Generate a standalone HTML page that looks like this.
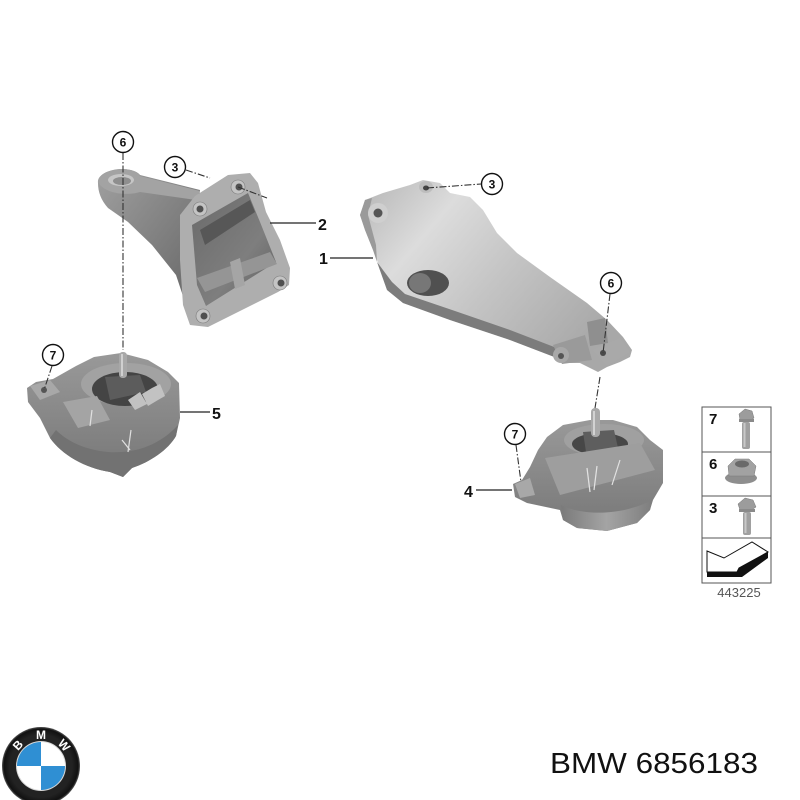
<!DOCTYPE html>
<html><head><meta charset="utf-8"><style>
html,body{margin:0;padding:0;background:#fff;}
svg{display:block;}
</style></head><body>
<svg width="800" height="800" viewBox="0 0 800 800" xmlns="http://www.w3.org/2000/svg">
<defs>
<linearGradient id="armG" x1="0" y1="0" x2="1" y2="1">
<stop offset="0" stop-color="#a0a0a0"/><stop offset="1" stop-color="#666"/></linearGradient>
<linearGradient id="plateIn" x1="0" y1="0" x2="1" y2="1">
<stop offset="0" stop-color="#6a6a6a"/><stop offset="0.6" stop-color="#7e7e7e"/><stop offset="1" stop-color="#5e5e5e"/></linearGradient>
<linearGradient id="p1G" x1="0" y1="0" x2="1" y2="0.6">
<stop offset="0" stop-color="#b4b4b4"/><stop offset="0.3" stop-color="#dcdcdc"/><stop offset="0.6" stop-color="#c4c4c4"/><stop offset="1" stop-color="#a8a8a8"/></linearGradient>
<linearGradient id="mountG" x1="0" y1="0" x2="0" y2="1">
<stop offset="0" stop-color="#999"/><stop offset="1" stop-color="#777"/></linearGradient>
<linearGradient id="baseG" x1="0" y1="0" x2="1" y2="0">
<stop offset="0" stop-color="#7a7a7a"/><stop offset="0.5" stop-color="#a4a4a4"/><stop offset="1" stop-color="#7e7e7e"/></linearGradient>
<radialGradient id="ringG" cx="0.5" cy="0.5" r="0.5">
<stop offset="0.8" stop-color="#222"/><stop offset="0.95" stop-color="#111"/><stop offset="1" stop-color="#555"/></radialGradient>
</defs>

<!-- ===== Part 2 (upper-left bracket) ===== -->
<path d="M98,183 C97,176 106,170 120,169 C130,169 137,171 140,175 L200,190 L186,305 L176,275 L152,245 L128,222 L108,208 C101,200 98,192 98,183 Z" fill="url(#armG)"/>
<path d="M98,182 C99,175 108,170 121,169 C132,169 138,172 140,176 L200,191 L196,200 L140,192 C128,196 104,194 98,182 Z" fill="#a3a3a3"/>
<ellipse cx="121" cy="180" rx="13" ry="6" fill="#c6c6c6"/>
<ellipse cx="122" cy="181" rx="9" ry="4" fill="#8e8e8e"/>
<path d="M180,215 L195,196 L228,175 L250,173 L258,183 L266,212 L280,240 L290,268 L289,285 L278,292 L208,327 L190,325 L183,305 L180,260 Z" fill="#aeaeae"/>
<path d="M192,225 L248,193 L260,222 L276,262 L206,306 L197,285 Z" fill="url(#plateIn)"/>
<path d="M197,278 L270,252 L277,264 L205,292 Z" fill="#959595"/>
<path d="M200,230 L250,200 L255,212 L205,245 Z" fill="#575757"/>
<path d="M230,262 L240,258 L245,285 L235,289 Z" fill="#a5a5a5"/>
<g fill="#c4c4c4" stroke="#7a7a7a" stroke-width="0.6">
<circle cx="200" cy="209" r="7"/><circle cx="238" cy="187" r="7"/><circle cx="280" cy="283" r="7"/><circle cx="203" cy="316" r="7"/></g>
<g fill="#505050"><circle cx="200" cy="209" r="3.5"/><circle cx="239" cy="187" r="3.5"/><circle cx="281" cy="283" r="3.5"/><circle cx="204" cy="316" r="3.5"/></g>

<!-- ===== Part 1 (right bracket) ===== -->
<path d="M360,215 L365,200 L383,193 L410,185 L423,180 L440,183 L450,193 L470,197 L483,210 L497,233 L517,253 L550,277 L587,303 L607,320 L623,337 L632,350 L630,357 L620,362 L607,367 L598,372 L590,368 L580,363 L567,363 L557,358 L510,340 L450,320 L403,303 L387,290 L377,260 L373,250 L365,230 Z" fill="url(#p1G)"/>
<path d="M377,262 L387,290 L403,303 L450,320 L510,340 L557,358 L562,350 L510,330 L455,311 L405,294 L392,282 Z" fill="#7c7c7c"/>
<path d="M360,215 L365,200 L372,198 L368,215 L376,245 L377,262 L373,250 L365,230 Z" fill="#9a9a9a"/>
<circle cx="378" cy="213" r="10" fill="#cfcfcf"/>
<circle cx="378" cy="213" r="4.5" fill="#555"/>
<ellipse cx="426" cy="187" rx="7" ry="6" fill="#bdbdbd"/>
<ellipse cx="426" cy="188" rx="3" ry="2.5" fill="#444"/>
<ellipse cx="428" cy="283" rx="21" ry="13" fill="#505050"/>
<ellipse cx="420" cy="283" rx="11" ry="10" fill="#777"/>
<path d="M553,345 L585,335 L592,360 L562,364 Z" fill="#9a9a9a"/>
<ellipse cx="561" cy="355" rx="8" ry="8" fill="#a8a8a8"/>
<circle cx="561" cy="356" r="3" fill="#555"/>
<path d="M587,322 L605,318 L608,343 L590,346 Z" fill="#8f8f8f"/>
<path d="M592,350 L620,338 L630,352 L607,366 Z" fill="#a9a9a9"/>
<circle cx="603" cy="353" r="3" fill="#4a4a4a"/>

<!-- ===== Part 5 (left mount) ===== -->
<path d="M27,388 L28,402 L40,418 L50,438 C62,455 85,468 110,472 L123,477 L132,468 C150,462 168,450 176,436 L180,418 L179,383 L168,372 L148,360 L121,353 L94,357 L76,366 L53,379 L36,382 Z" fill="url(#mountG)"/>
<path d="M56,430 C68,442 86,450 108,452 C135,454 160,445 178,425 L176,436 C168,450 150,462 132,468 L123,477 L110,472 C85,468 62,455 50,438 Z" fill="#727272"/>
<ellipse cx="126" cy="384" rx="45" ry="21" fill="#a2a2a2"/>
<ellipse cx="125" cy="389" rx="33" ry="17" fill="#444"/>
<path d="M105,377 L140,375 L146,392 L110,400 Z" fill="#5c5c5c"/>
<path d="M128,400 L140,392 L147,404 L135,410 Z M142,394 L152,388 L158,400 L148,406 Z M152,388 L160,384 L165,396 L158,400 Z" fill="#c2c2c2"/>
<path d="M63,402 L97,396 L110,420 L78,428 Z" fill="#a4a4a4"/>
<path d="M30,386 L50,380 L60,392 L40,400 Z" fill="#a8a8a8"/>
<circle cx="44" cy="390" r="3" fill="#555"/>
<g stroke="#e0e0e0" stroke-width="1.2"><line x1="92" y1="410" x2="90" y2="426"/><line x1="131" y1="430" x2="128" y2="452"/><line x1="122" y1="440" x2="130" y2="450"/></g>
<rect x="119" y="352" width="8" height="26" rx="3.5" fill="#a8a8a8"/>
<rect x="121" y="354" width="2" height="22" fill="#d0d0d0"/>

<!-- ===== Part 4 (right mount) ===== -->
<path d="M513,484 L515,497 L527,503 L560,510 L563,520 L577,528 L607,531 L637,523 L650,510 L653,500 L663,483 L663,450 L650,440 L637,427 L613,420 L590,420 L563,425 L547,437 L538,450 L530,467 L522,480 Z" fill="url(#mountG)"/>
<path d="M561,505 C580,515 620,517 652,500 L650,510 L637,523 L607,531 L577,528 L563,520 Z" fill="url(#baseG)"/>
<ellipse cx="604" cy="440" rx="40" ry="16" fill="#a0a0a0"/>
<ellipse cx="600" cy="444" rx="28" ry="11" fill="#474747"/>
<path d="M583,432 L614,430 L618,448 L586,452 Z" fill="#5e5e5e"/>
<path d="M545,458 L640,443 L655,470 L560,495 Z" fill="#9e9e9e"/>
<path d="M515,484 L530,478 L535,495 L520,498 Z" fill="#a8a8a8"/>
<g stroke="#e2e2e2" stroke-width="1.2"><line x1="587" y1="468" x2="590" y2="492"/><line x1="597" y1="466" x2="594" y2="490"/><line x1="620" y1="460" x2="612" y2="485"/></g>
<rect x="591" y="408" width="9" height="29" rx="4" fill="#a9a9a9"/>
<rect x="593" y="411" width="2" height="24" fill="#d2d2d2"/>

<!-- ===== Leader lines ===== -->
<g stroke="#222" stroke-width="1.2" fill="none">
<line x1="270" y1="223" x2="316" y2="223"/>
<line x1="330" y1="258" x2="373" y2="258"/>
<line x1="180" y1="412" x2="210" y2="412"/>
<line x1="476" y1="490" x2="512" y2="490"/>
</g>
<g stroke="#333" stroke-width="1.1" fill="none" stroke-dasharray="7,2,1.5,2">
<line x1="123" y1="153" x2="123" y2="350"/>
<line x1="186" y1="170" x2="210" y2="178"/>
<line x1="238" y1="187" x2="267" y2="198"/>
<line x1="427" y1="188" x2="481" y2="184"/>
<line x1="610" y1="294" x2="603" y2="353"/>
<line x1="600" y1="377" x2="595" y2="408"/>
<line x1="52" y1="366" x2="44" y2="390"/>
<line x1="516" y1="445" x2="521" y2="482"/>
</g>

<!-- ===== Callout circles ===== -->
<g font-family="Liberation Sans, sans-serif" font-weight="bold" font-size="12" text-anchor="middle">
<g fill="#fff" stroke="#111" stroke-width="1.4">
<circle cx="123" cy="142" r="10.5"/><circle cx="175" cy="167" r="10.5"/><circle cx="492" cy="184" r="10.5"/>
<circle cx="611" cy="283" r="10.5"/><circle cx="53" cy="355" r="10.5"/><circle cx="515" cy="434" r="10.5"/>
</g>
<g fill="#111">
<text x="123" y="146.5">6</text><text x="175" y="171.5">3</text><text x="492" y="188.5">3</text>
<text x="611" y="287.5">6</text><text x="53" y="359.5">7</text><text x="515" y="438.5">7</text>
</g>
</g>

<!-- ===== Part labels ===== -->
<g font-family="Liberation Sans, sans-serif" font-weight="bold" font-size="16" fill="#111">
<text x="318" y="230">2</text>
<text x="319" y="264">1</text>
<text x="212" y="419">5</text>
<text x="464" y="497">4</text>
</g>

<!-- ===== Legend box ===== -->
<rect x="702" y="407" width="69" height="176" fill="#fff" stroke="#555" stroke-width="1"/>
<g stroke="#555" stroke-width="1"><line x1="702" y1="452" x2="771" y2="452"/><line x1="702" y1="496" x2="771" y2="496"/><line x1="702" y1="538" x2="771" y2="538"/></g>
<g font-family="Liberation Sans, sans-serif" font-weight="bold" font-size="15" fill="#111">
<text x="709" y="424">7</text><text x="709" y="469">6</text><text x="709" y="513">3</text>
</g>
<!-- bolt 7 -->
<path d="M739,414 L745,409 L752,411 L754,418 L748,422 L740,420 Z" fill="#9c9c9c" stroke="#777" stroke-width="0.5"/>
<rect x="739" y="419" width="15" height="3" fill="#8a8a8a"/>
<rect x="742" y="422" width="8" height="27" rx="2" fill="#a0a0a0"/>
<rect x="743.5" y="423" width="2" height="24" fill="#c8c8c8"/>
<!-- nut 6 -->
<ellipse cx="741" cy="478" rx="16" ry="6" fill="#8e8e8e"/>
<path d="M728,466 L735,459 L749,459 L756,466 L754,476 L729,476 Z" fill="#a2a2a2" stroke="#7a7a7a" stroke-width="0.5"/>
<ellipse cx="742" cy="464" rx="7" ry="3.5" fill="#6a6a6a"/>
<!-- bolt 3 -->
<path d="M738,504 L745,498 L753,500 L756,507 L750,511 L740,510 Z" fill="#9c9c9c" stroke="#777" stroke-width="0.5"/>
<rect x="739" y="509" width="16" height="3" fill="#8a8a8a"/>
<rect x="743" y="512" width="8" height="23" rx="2" fill="#a0a0a0"/>
<rect x="744.5" y="513" width="2" height="20" fill="#c8c8c8"/>
<!-- arrow icon -->
<path d="M707,572 L737,572 L739,568 L768,552 L768,558 L742,577 L707,577 Z" fill="#111"/>
<path d="M707,551 L724,558 L752,542 L768,552 L739,568 L737,572 L707,572 Z" fill="#fff" stroke="#111" stroke-width="1"/>
<text x="739" y="597" font-family="Liberation Sans, sans-serif" font-size="13" fill="#555" text-anchor="middle">443225</text>

<!-- ===== BMW logo ===== -->
<circle cx="41" cy="766" r="39" fill="url(#ringG)"/>
<circle cx="41" cy="766" r="25" fill="#d8d8d8"/>
<path d="M41,766 L41,742 A24,24 0 0,0 17,766 Z" fill="#2f8fd3"/>
<path d="M41,766 L41,742 A24,24 0 0,1 65,766 Z" fill="#fff"/>
<path d="M41,766 L17,766 A24,24 0 0,0 41,790 Z" fill="#fff"/>
<path d="M41,766 L65,766 A24,24 0 0,1 41,790 Z" fill="#2f8fd3"/>
<g font-family="Liberation Sans, sans-serif" font-weight="bold" font-size="12" fill="#fff" text-anchor="middle">
<text x="41" y="739">M</text>
<text x="41" y="739" transform="rotate(-48 41 766)">B</text>
<text x="41" y="739" transform="rotate(48 41 766)">W</text>
</g>

<!-- ===== Part number ===== -->
<text x="550" y="773" font-family="Liberation Sans, sans-serif" font-size="29" fill="#111" textLength="208" lengthAdjust="spacingAndGlyphs">BMW 6856183</text>
</svg>
</body></html>
